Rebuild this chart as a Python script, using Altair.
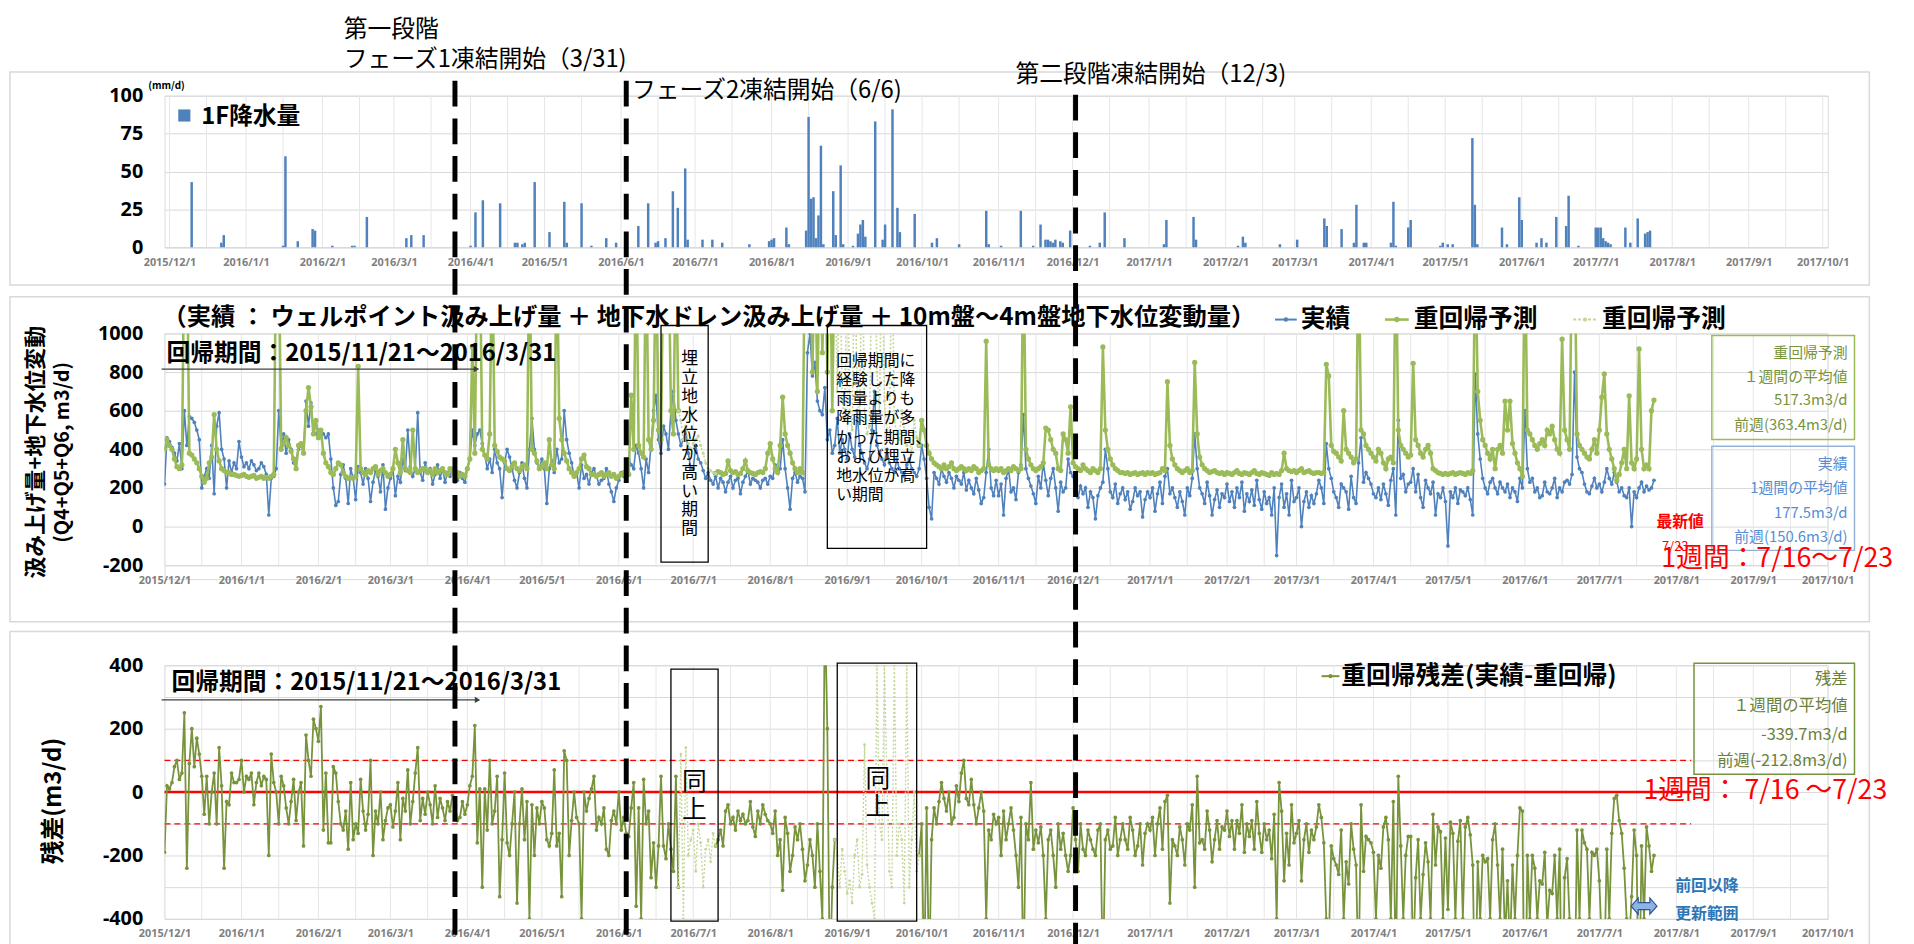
import altair as alt
import pandas as pd

# ------------------------------------------------------------------ data
START = "2015-12-01"

# 実績 (m3/d), daily from 2015-12-01 to 2017-07-23
ACTUAL = [
    # 2015-12
    220, 460, 440, 410, 380, 340, 430, 300, 600, 420,
    570, 560, 540, 500, 450, 200, 260, 300, 250, 420,
    170, 520, 590, 400, 350, 200, 340, 280, 330, 300,
    440,
    # 2016-01
    360, 310, 330, 300, 340, 320, 290, 300, 330, 310,
    270, 60, 250, 260, 300, 600, 410, 480, 380, 450,
    400, 330, 350, 400, 420, 380, 650, 520, 640, 500,
    480,
    # 2016-02
    500, 470, 480, 460, 480, 350, 200, 110, 130, 270,
    320, 250, 120, 300, 250, 140, 310, 280, 220, 300,
    250, 130, 230, 290, 260, 180, 320, 90, 200,
    # 2016-03
    250, 300, 160, 260, 230, 350, 290, 500, 310, 260,
    300, 590, 280, 240, 330, 280, 300, 220, 270, 320,
    250, 300, 230, 280, 260, 300, 230, 240, 280, 250,
    230,
    # 2016-04
    300, 350, 500, 420, 480, 500, 430, 370, 300, 350,
    280, 400, 330, 300, 150, 330, 400, 360, 300, 240,
    200, 280, 330, 250, 200, 400, 560, 400, 330, 300,
    # 2016-05
    350, 300, 120, 300, 340, 280, 400, 330, 350, 600,
    450, 380, 330, 260, 280, 200, 320, 250, 270, 220,
    280, 300, 260, 220, 240, 250, 300, 220, 180, 130,
    200,
    # 2016-06
    240, 280, 260, 300, 350, 320, 300, 420, 380, 300,
    200, 350, 280, 420, 600, 680, 450, 380, 520, 480,
    400, 600, 700, 550, 480, 420, 450, 500, 380, 300,
    # 2016-07
    300, 420, 350, 330, 290, 250, 280, 240, 220, 260,
    200, 250, 230, 180, 230, 260, 200, 240, 250, 170,
    230, 260, 290, 220, 250, 240, 230, 200, 240, 250,
    220,
    # 2016-08
    260, 250, 320, 280, 300, 450, 300, 200, 90, 250,
    280, 230, 260, 250, 180, 900, 1000, 780, 850, 650,
    600, 580, 720, 450, 500, 380, 420, 560, 380, 450,
    400,
    # 2016-09
    350, 480, 400, 360, 600, 420, 380, 330, 300, 350,
    500, 700, 420, 380, 350, 320, 400, 330, 300, 280,
    350, 300, 280, 260, 320, 350, 300, 280, 260, 300,
    # 2016-10
    420, 350, 250, 100, 40, 280, 250, 220, 300, 260,
    230, 280, 250, 200, 260, 240, 220, 280, 190, 240,
    200, 170, 250, 190, 120, 150, 280, 400, 200, 160,
    240,
    # 2016-11
    160, 220, 60, 250, 300, 180, 200, 140, 280, 320,
    580, 300, 250, 210, 170, 120, 260, 200, 330, 240,
    160, 250, 300, 200, 80, 230, 180, 200, 350, 280,
    # 2016-12
    260, 200, 150, 210, 170, 200, 100, 180, 150, 40,
    160, 200, 230, 400, 300, 180, 150, 220, 120, 170,
    200, 140, 180, 90, 130, 200, 160, 180, 50, 140,
    180,
    # 2017-01
    150, 200, 80, 170, 230, 120, 260, 300, 170, 200,
    150, 100, 180, 130, 60, 200, 160, 250, 480, 300,
    200, 170, 120, 230, 160, 60, 140, 190, 100, 170,
    150,
    # 2017-02
    220, 130, 180, 100, 200, 150, 230, 80, 170, 130,
    190, 110, 240, 140, 90, 180, 120, 150, 60, 200,
    -150, 150, 220, 100, 170, 60, 240, 130,
    # 2017-03
    150, 200, 0, 130, 180, 100, 160, 120, 170, 240,
    200, 120, 430, 300, 250, 180, 150, 100, 220, 200,
    180, 90, 260, 150, 120, 330, 460, 230, 280, 250,
    220,
    # 2017-04
    170, 150, 200, 140, 220, 170, 110, 240, 300, 60,
    550, 250, 270, 180, 220, 230, 300, 180, 270, 150,
    100, 240, 200, 170, 230, 60, 170, 150, 200, 130,
    # 2017-05
    -100, 180, 150, 200, 120, 190, 180, 160, 200, 140,
    60, 790, 480, 350, 250, 200, 170, 230, 250, 200,
    170, 230, 200, 180, 220, 150, 200, 180, 130, 250,
    200,
    # 2017-06
    600, 300, 230, 250, 180, 200, 150, 160, 230, 180,
    170, 200, 250, 150, 200, 180, 230, 240, 220, 270,
    800, 360, 300, 280, 220, 180, 170, 210, 250, 200,
    # 2017-07
    220, 180, 230, 300, 250, 220, 280, 230, 180, 200,
    160, 150, 200, 0, 180, 150, 200, 230, 180, 210,
    190, 200, 240,
]

# 重回帰予測 (m3/d), daily; values above 1000 run off the top of the axis
PREDICTED = [
    # 2015-12
    400, 450, 420, 400, 350, 310, 300, 320, 1500, 1500,
    380, 370, 350, 330, 300, 260, 230, 250, 330, 360,
    580, 400, 340, 300, 290, 280, 280, 270, 270, 265,
    260,
    # 2016-01
    265, 270, 260, 255, 260, 265, 250, 255, 260, 250,
    255, 250, 260, 270, 1500, 1500, 400, 430, 460, 420,
    390, 350, 300, 420, 430, 380, 600, 720, 620, 480,
    550,
    # 2016-02
    460, 500, 380, 330, 310, 280, 270, 300, 330, 320,
    280, 260, 250, 255, 250, 260, 830, 300, 280, 270,
    290, 280, 300, 310, 270, 290, 300, 280, 260,
    # 2016-03
    270, 300, 400, 330, 280, 450, 300, 290, 280, 500,
    300, 280, 290, 300, 300, 280, 290, 270, 300, 280,
    290, 300, 280, 270, 300, 290, 270, 280, 260, 270,
    260,
    # 2016-04
    300, 350, 930, 380, 1500, 1500, 400, 370, 350, 480,
    1500, 420, 390, 360, 350, 340, 300, 290, 310, 330,
    300, 290, 310, 320, 300, 1500, 400, 380, 340, 300,
    # 2016-05
    310, 330, 300, 450, 320, 300, 1500, 560, 450, 380,
    340, 300, 280, 260, 280, 300, 350, 370, 310, 300,
    270, 270, 260, 270, 280, 260, 270, 280, 260, 270,
    250,
    # 2016-06
    260, 270, 280, 260, 270, 680, 400, 1500, 420, 380,
    360, 1500, 450, 400, 550, 1500, 500, 450, 1500, 1500,
    1500, 600, 480, 1500, 600, 550, 450, 520, 430, 400,
    # 2016-07
    430, 450, 470, 420, 380, 330, 300, 290, 280, 275,
    285, 280, 270, 275, 340, 290, 280, 285, 270, 275,
    300, 340, 290, 280, 275, 270, 280, 285, 280, 300,
    380,
    # 2016-08
    430, 350, 300, 280, 420, 670, 480, 420, 380, 330,
    300, 280, 300, 280, 1500, 1500, 1500, 800, 1500, 700,
    1500, 900, 1500, 800, 1500, 600, 1500, 700, 1500, 650,
    550,
    # 2016-09
    1500, 600, 500, 1500, 700, 550, 1500, 600, 480, 520,
    1500, 1500, 800, 600, 1500, 650, 500, 450, 1500, 550,
    480, 450, 600, 500, 420, 450, 380, 550, 460, 420,
    # 2016-10
    550, 500, 420, 380, 350, 330, 320, 310, 300, 320,
    300, 310, 330, 300, 290, 300, 310, 300, 290, 300,
    290, 310, 300, 280, 290, 300, 960, 320, 300, 290,
    300,
    # 2016-11
    290, 300, 280, 290, 300, 290, 310, 300, 290, 300,
    1500, 400, 350, 320, 300, 290, 300, 310, 330, 510,
    500, 450, 400, 380, 300, 290, 480, 450, 380, 620,
    # 2016-12
    330, 310, 300, 290, 320, 300, 290, 280, 300, 290,
    280, 300, 930, 500, 400, 350, 320, 300, 290, 280,
    280, 275, 280, 270, 275, 280, 270, 275, 280, 270,
    280,
    # 2017-01
    275, 280, 270, 275, 280, 300, 290, 750, 420, 350,
    320, 300, 290, 280, 290, 300, 280, 290, 850, 480,
    360, 320, 300, 290, 280, 285, 290, 280, 275, 280,
    270,
    # 2017-02
    280, 275, 270, 280, 290, 275, 270, 280, 275, 270,
    280, 290, 275, 270, 280, 275, 270, 265, 280, 270,
    275, 270, 290, 380, 300, 290, 285, 290,
    # 2017-03
    280, 290, 300, 280, 285, 290, 280, 275, 280, 280,
    275, 280, 840, 780, 420, 390, 380, 360, 340, 600,
    400, 380, 360, 330, 350, 1500, 500, 480, 420, 400,
    380,
    # 2017-04
    360, 340, 400, 380, 330, 300, 350, 360, 330, 1500,
    500, 420, 400, 380, 360, 370, 845, 450, 420, 380,
    360, 400, 420, 380, 300, 290, 280, 275, 270, 275,
    # 2017-05
    270, 275, 280, 270, 275, 280, 275, 270, 280, 275,
    290, 1500, 700, 550, 450, 420, 380, 350, 400, 300,
    400, 420, 380, 650, 500, 650, 430, 380, 330, 300,
    260,
    # 2017-06
    1500, 500, 480, 450, 420, 400, 430, 450, 420, 500,
    480, 520, 450, 400, 380, 970, 500, 450, 400, 1500,
    1500, 480, 420, 400, 380, 360, 350, 400, 450, 380,
    # 2017-07
    500, 670, 790, 480, 400, 350, 300, 240, 270, 330,
    400, 300, 677, 330, 300, 350, 920, 400, 300, 320,
    300, 600, 655,
]

# 重回帰残差 (実績-重回帰) (m3/d), daily; values beyond +-400 run off the axis
RESIDUAL = [
    # 2015-12
    -190, 20, 10, 30, 80, 100, 40, 60, 250, -240,
    90, 200, 80, 170, 120, 50, -70, 50, -100, 0,
    60, -100, 140, 20, -240, -30, -40, 60, 30, 30,
    40,
    # 2016-01
    100, 0, 50, 40, 60, -40, 30, 60, 20, 50,
    40, -200, 120, 30, 0, -100, 50, 20, -50, -100,
    -30, 40, -90, 0, 30, -170, 180, 100, 50, 230,
    200,
    # 2016-02
    160, 270, -120, 60, -160, -160, 80, 60, -30, -100,
    -120, -60, -180, 30, -150, -100, -130, 40, -60, -120,
    -70, 100, -200, -60, -100, 0, -150, -90, -50,
    # 2016-03
    -40, -110, -60, 30, -150, -20, -60, 70, -100, -30,
    60, 140, -90, -20, -70, 0, -40, -100, 20, -80,
    -20, -50, -90, -30, -60, -10, -40, -90, -80, -30,
    -70,
    # 2016-04
    -40, 20, 50, 210, -160, 10, -300, 10, -120, 100,
    -100, -60, 50, -330, -150, 60, -160, -200, -100, 0,
    -350, -100, 10, -150, -30, -400, -40, -200, -50, -100,
    # 2016-05
    -30, -50, -150, -170, -130, 70, -170, -130, -330, 130,
    100, -200, -90, 0, -80, -100, -400, 0, -60, -20,
    10, 50, -120, -80, -100, -50, -180, -200, -90, -60,
    -100,
    # 2016-06
    0, -120, -80, -130, -140, -50, 30, -360, -50, -400,
    40, -100, -60, -270, -160, -300, -170, 50, -170, -210,
    -100, -180, -250, 50, -300, 120, -400, 140, -200, -150,
    # 2016-07
    -120, -250, -100, -160, -300, -180, -150, -220, -130, -170,
    -150, -120, -170, -60, -40, -100, -80, -120, -60, -90,
    -70, -100, -90, -30, -110, -140, -60, -100, -40, -70,
    -90,
    # 2016-08
    -100, -130, -60, -200, -150, -310, -80, -130, -250, -200,
    -110, -150, -100, -180, -280, -230, -150, -200, -300, -100,
    -250, -400, 600, 200, -600, -300, -150, -200, -300, -180,
    -250,
    # 2016-09
    -320, -280, -350, -200, -150, -300, -260, 150, -230, -300,
    -350, -400, 400, -100, -150, 400, 50, -250, -300, 400,
    -200, -100, -150, -350, 400, -300, -150, 0, -250, -200,
    # 2016-10
    -100, -600, -50, -600, -150, -50, -100, -30, 30, -20,
    -60, 0, -100, -80, 20, -30, 60, 100, -20, -40,
    40, -40, -100, -50, 0, -60, -400, -120, -150, -70,
    -100,
    # 2016-11
    -80, -200, -60, -150, -100, -50, -120, -200, -300, -80,
    -600, -100, -150, 30, -180, -120, -160, -110, -200, -400,
    -150, -120, -200, -300, -100, -180, -130, -200, -250, -200,
    # 2016-12
    -50, -150, -250, -100, -180, -200, -120, -150, -180, -200,
    -120, -100, -600, -150, -120, -180, -170, -80, -200, -150,
    -100, -150, -180, -80, -120, -200, -170, -100, -230, -130,
    -100,
    # 2017-01
    -120, -80, -200, -100, -50, -180, -30, -10, -350, -150,
    -170, -200, -110, -150, -230, -100, -120, -40, -300, 50,
    -160, -150, -180, -60, -120, -220, -150, -90, -180, -110,
    -120,
    # 2017-02
    -60, -140, -90, -180, -90, -130, -40, -190, -100, -140,
    -90, -180, -30, -130, -190, -100, -150, -120, -210, -70,
    -400, 30, -60, -280, -130, -230, -40, -160,
    # 2017-03
    -130, -90, -280, -150, -100, -190, -120, -150, -110, -40,
    -80, -160, -400, -480, -170, -210, -230, -260, -120, -400,
    -220, -290, -100, -180, -230, -600, -40, -250, -140, -150,
    -160,
    # 2017-04
    -190, -400, -200, -240, -110, -80, -150, -400, -30, -600,
    50, -170, -400, -200, -140, -140, -545, -270, -150, -400,
    -260, -160, -220, -400, -70, -230, -110, -125, -400, -145,
    # 2017-05
    -370, -95, -130, -400, -155, -90, -400, -110, -80, -135,
    -230, -710, -220, -400, -200, -220, -210, -400, -150, -100,
    -230, -400, -180, -470, -280, -500, -230, -400, -200, -50,
    -60,
    # 2017-06
    -900, -200, -400, -200, -240, -400, -280, -290, -190, -420,
    -310, -320, -200, -400, -180, -790, -270, -210, -400, -1300,
    -700, -120, -400, -120, -160, -180, -400, -190, -200, -180,
    # 2017-07
    -280, -490, -560, -180, -400, -130, -20, -10, -90, -130,
    -240, -400, -477, -330, -120, -200, -720, -170, -400, -110,
    -170, -250, -200,
]

# 1F降水量 (mm/d), rainy days only
RAIN_DATES = [
    "2015-12-10", "2015-12-22", "2015-12-23", "2016-01-16", "2016-01-17", "2016-01-22",
    "2016-01-28", "2016-01-29", "2016-02-05", "2016-02-13", "2016-02-14", "2016-02-19",
    "2016-03-06", "2016-03-08", "2016-03-13", "2016-04-01", "2016-04-03", "2016-04-06",
    "2016-04-13", "2016-04-19", "2016-04-20", "2016-04-22", "2016-04-23", "2016-04-27",
    "2016-05-03", "2016-05-09", "2016-05-10", "2016-05-16", "2016-05-20", "2016-05-26",
    "2016-05-30", "2016-06-08", "2016-06-12", "2016-06-15", "2016-06-16", "2016-06-19",
    "2016-06-22", "2016-06-24", "2016-06-27", "2016-06-28", "2016-07-04", "2016-07-08",
    "2016-07-12", "2016-07-23", "2016-07-31", "2016-08-01", "2016-08-02", "2016-08-07",
    "2016-08-08", "2016-08-15", "2016-08-16", "2016-08-17", "2016-08-18", "2016-08-19",
    "2016-08-20", "2016-08-21", "2016-08-22", "2016-08-26", "2016-08-27", "2016-08-29",
    "2016-08-30", "2016-09-03", "2016-09-05", "2016-09-06", "2016-09-07", "2016-09-08",
    "2016-09-12", "2016-09-15", "2016-09-16", "2016-09-19", "2016-09-21", "2016-09-22",
    "2016-09-28", "2016-10-05", "2016-10-07", "2016-10-16", "2016-10-27", "2016-10-28",
    "2016-11-02", "2016-11-10", "2016-11-15", "2016-11-18", "2016-11-20", "2016-11-21",
    "2016-11-22", "2016-11-23", "2016-11-24", "2016-11-26", "2016-11-27", "2016-11-30",
    "2016-12-08", "2016-12-12", "2016-12-14", "2016-12-22", "2017-01-07", "2017-01-08",
    "2017-01-19", "2017-01-20", "2017-02-06", "2017-02-08", "2017-02-09", "2017-02-23",
    "2017-03-02", "2017-03-13", "2017-03-14", "2017-03-20", "2017-03-25", "2017-03-26",
    "2017-03-29", "2017-03-30", "2017-04-09", "2017-04-10", "2017-04-11", "2017-04-16",
    "2017-04-17", "2017-04-29", "2017-04-30", "2017-05-02", "2017-05-04", "2017-05-12",
    "2017-05-13", "2017-05-14", "2017-05-24", "2017-05-26", "2017-05-31", "2017-06-01",
    "2017-06-07", "2017-06-09", "2017-06-11", "2017-06-15", "2017-06-19", "2017-06-20",
    "2017-06-24", "2017-07-01", "2017-07-02", "2017-07-03", "2017-07-04", "2017-07-05",
    "2017-07-06", "2017-07-07", "2017-07-13", "2017-07-15", "2017-07-18", "2017-07-21",
    "2017-07-22", "2017-07-23",
]
RAIN_MM = [
    43, 3, 8, 1, 60, 4,
    12, 11, 1, 1, 1, 20,
    6, 8, 8, 1, 23, 31,
    29, 3, 3, 2, 3, 43,
    10, 30, 3, 29, 1, 6,
    3, 14, 29, 3, 4, 6,
    37, 26, 52, 5, 5, 5,
    3, 2, 4, 5, 6, 13,
    2, 11, 86, 32, 33, 6,
    21, 67, 2, 37, 8, 54,
    2, 1, 9, 15, 18, 7,
    83, 5, 15, 91, 26, 10,
    22, 3, 6, 2, 24, 2,
    1, 24, 1, 15, 5, 5,
    4, 3, 5, 4, 3, 11,
    1, 3, 23, 6, 2, 18,
    20, 5, 1, 7, 3, 2,
    5, 19, 14, 12, 3, 28,
    3, 3, 3, 30, 1, 13,
    18, 1, 3, 2, 2, 72,
    28, 2, 13, 2, 33, 18,
    3, 6, 3, 20, 14, 34,
    1, 13, 13, 13, 6, 4,
    3, 2, 13, 3, 19, 9,
    10, 11,
]

EXCLUDED_PERIODS = [("2016-06-25", "2016-07-10"), ("2016-08-27", "2016-09-30")]
PHASE_DATES = ["2016-03-27", "2016-06-04", "2016-12-02"]
MID_BOX_START = ["2016-06-18", "2016-08-24"]
MID_BOX_END = ["2016-07-07", "2016-10-03"]
MID_BOX_LOW = [-184, -113]
MID_BOX_HIGH = [1041, 1041]
BOT_BOX_START = ["2016-06-22", "2016-08-28"]
BOT_BOX_END = ["2016-07-11", "2016-09-29"]
BOT_BOX_LOW = [-407, -407]
BOT_BOX_HIGH = [388, 407]
BAND_VALUES = [0, 100, -100]
BAND_END = "2017-08-07"
X_START, X_END = "2015-12-01", "2017-10-01"

# ------------------------------------------------------------------ frames
JP = "Noto Sans CJK JP"
BLUE = "#4F81BD"
GREEN = "#9BBB59"
LIGHTG = "#C4D79B"
OLIVE = "#77933C"

W = 1679
H_TOP, H_MID, H_BOT = 153, 234, 256
MID_EXTRA = 14          # extra room under the middle plot so the panels keep their gaps
SPACING = 87


def ms(s):
    return int(pd.Timestamp(s).value // 10**6)


ONE = pd.DataFrame({"k": [0]})
TICKS = [ms(t) for t in pd.date_range(X_START, X_END, freq="MS")]
grid_dates = []
for t in pd.date_range(X_START, X_END, freq="MS"):
    grid_dates.append(t.strftime("%Y-%m-%d"))
    if t < pd.Timestamp(X_END):
        grid_dates.append((t + pd.Timedelta(days=15)).strftime("%Y-%m-%d"))
GRID = pd.DataFrame({"date": grid_dates})

XS = alt.Scale(type="utc", domain=[ms(X_START), ms(X_END)])


def xaxis(offset=0):
    return alt.Axis(values=TICKS, format="%Y/%-m/%-d", labelFont="Noto Sans", labelFontSize=11,
                    labelFontWeight="bold", labelColor="#7F7F7F", labelPadding=9, ticks=False,
                    grid=False, domain=True, domainColor="#D9D9D9", title=None, labelAngle=0,
                    labelOverlap=False, labelFlush=False, offset=offset)


def yaxis(values, expr):
    return alt.Axis(values=values, title=None, grid=True, gridColor="#D9D9D9", gridWidth=1,
                    ticks=False, domain=False, labelFont="Noto Sans", labelFontWeight="bold",
                    labelFontSize=20, labelColor="black", labelPadding=22, labelExpr=expr)


mid_low = -200 - MID_EXTRA * 1200 / H_MID
YT = dict(scale=alt.Scale(domain=[0, 100], nice=False),
          axis=yaxis([0, 25, 50, 75, 100], "'' + datum.value"))
YM = dict(scale=alt.Scale(domain=[mid_low, 1000], nice=False, zero=False),
          axis=yaxis(list(range(-200, 1001, 200)), "'' + datum.value"))
YB = dict(scale=alt.Scale(domain=[-400, 400], nice=False, zero=False),
          axis=yaxis(list(range(-400, 401, 100)),
                     "datum.value % 200 === 0 ? '' + datum.value : ''"))
XO = {"top": 0, "mid": -MID_EXTRA, "bot": 0}


def xenc(f, panel):
    return alt.X(f, type="temporal", scale=XS, axis=xaxis(XO[panel]))


def yenc(f, d):
    return alt.Y(f, type="quantitative", **d)


def series_df(values):
    dates = pd.date_range(START, periods=len(values), freq="D")
    (e1s, e1e), (e2s, e2e) = [(pd.Timestamp(a), pd.Timestamp(b)) for a, b in EXCLUDED_PERIODS]
    rows = []
    for dt, v in zip(dates, values):
        segs = []
        if dt <= e1s:
            segs.append(("m0", "main"))
        if e1s <= dt <= e1e:
            segs.append(("x1", "excl"))
        if e1e <= dt <= e2s:
            segs.append(("m1", "main"))
        if e2s <= dt <= e2e:
            segs.append(("x2", "excl"))
        if dt >= e2e:
            segs.append(("m2", "main"))
        for s, k in segs:
            rows.append({"date": dt.strftime("%Y-%m-%d"), "v": v, "seg": s, "kind": k})
    return pd.DataFrame(rows)


ACT_DF = pd.DataFrame({"date": pd.date_range(START, periods=len(ACTUAL), freq="D").strftime("%Y-%m-%d"),
                       "v": ACTUAL})
PRED_DF = series_df(PREDICTED)
RES_DF = series_df(RESIDUAL)
RAIN_DF = pd.DataFrame({"date": RAIN_DATES, "mm": RAIN_MM})


# ------------------------------------------------------------------ helpers
def txt(text, x, y, size, color="black", weight="normal", align="left", baseline="middle",
        angle=None, line_height=None, font=JP):
    kw = dict(fontSize=size, color=color, fontWeight=weight, align=align, baseline=baseline, font=font)
    if angle is not None:
        kw["angle"] = angle
    if line_height is not None:
        kw["lineHeight"] = line_height
    return alt.Chart(ONE).mark_text(**kw).encode(x=alt.value(x), y=alt.value(y), text=alt.value(text))


def frame(y1, y2, color="#D9D9D9", x1=-156, x2=1721, width=1.5):
    return alt.Chart(ONE).mark_rect(fillOpacity=0, stroke=color, strokeWidth=width).encode(
        x=alt.value(x1), x2=alt.value(x2), y=alt.value(y1), y2=alt.value(y2))


def hline(x1, x2, y, color, width, dash=None):
    kw = dict(color=color, strokeWidth=width)
    if dash:
        kw["strokeDash"] = dash
    return alt.Chart(ONE).mark_rule(**kw).encode(x=alt.value(x1), x2=alt.value(x2), y=alt.value(y))


def dot(x, y, color, size, shape="circle"):
    return alt.Chart(ONE).mark_point(filled=True, color=color, size=size, shape=shape, opacity=1).encode(
        x=alt.value(x), y=alt.value(y))


def vgrid(panel, height):
    return alt.Chart(GRID).mark_rule(color="#E6E6E6", strokeWidth=1).encode(
        x=xenc("date:T", panel), y=alt.value(0), y2=alt.value(height))


def lines(df, kind, yd, panel, color, width, psize, dash=None):
    kw = dict(color=color, strokeWidth=width, clip=True,
              point=alt.OverlayMarkDef(filled=True, size=psize, color=color, clip=True))
    if dash:
        kw["strokeDash"] = dash
    return alt.Chart(df).transform_filter(alt.datum.kind == kind).mark_line(**kw).encode(
        x=xenc("date:T", panel), y=yenc("v:Q", yd), detail="seg:N")


# ------------------------------------------------------------------ top panel
anchor = alt.Chart(ONE).mark_rule(strokeOpacity=0).encode(
    x=alt.value(0), x2=alt.value(10), y=alt.value(-83))
rain = alt.Chart(RAIN_DF).mark_bar(size=2.5, color=BLUE).encode(
    x=xenc("date:T", "top"), y=yenc("mm:Q", YT))
top = alt.layer(
    frame(-24, 191), anchor, vgrid("top", H_TOP), rain,
    dot(20, 20, BLUE, 150, "square"),
    txt("1F降水量", 37, 22, 24, weight="bold"),
    txt("(mm/d)", 2, -10, 10, weight="bold", align="center"),
    txt("第一段階", 181, -66, 24),
    txt("フェーズ1凍結開始（3/31)", 181, -36, 24),
    txt("フェーズ2凍結開始（6/6)", 472, -5, 24),
    txt("第二段階凍結開始（12/3)", 859, -21, 24),
).properties(width=W, height=H_TOP)

# ------------------------------------------------------------------ middle panel
MID_BOX_DF = pd.DataFrame({"s": MID_BOX_START, "e": MID_BOX_END, "lo": MID_BOX_LOW, "hi": MID_BOX_HIGH})
mid_boxes = alt.Chart(MID_BOX_DF).mark_rect(fillOpacity=0, stroke="black", strokeWidth=1.3, clip=False).encode(
    x=xenc("s:T", "mid"), x2="e:T", y=yenc("lo:Q", YM), y2="hi:Q")

actual = alt.Chart(ACT_DF).mark_line(
    color=BLUE, strokeWidth=1.6, clip=True,
    point=alt.OverlayMarkDef(filled=True, size=14, color=BLUE, clip=True)).encode(
    x=xenc("date:T", "mid"), y=yenc("v:Q", YM))

mid = alt.layer(
    frame(-37, 291), vgrid("mid", H_MID), actual,
    lines(PRED_DF, "main", YM, "mid", GREEN, 2.6, 28),
    lines(PRED_DF, "excl", YM, "mid", LIGHTG, 1.6, 10, dash=[2, 2]),
    mid_boxes,
    txt(list("埋立地水位が高い期間"), 530, 18, 17, align="center", baseline="top", line_height=19.1),
    txt(["回帰期間に", "経験した降", "雨量よりも", "降雨量が多", "かった期間、", "および埋立", "地水位が高", "い期間"],
        678, 20, 16, baseline="top", line_height=19.3),
    txt("（実績 ： ウェルポイント汲み上げ量 ＋ 地下水ドレン汲み上げ量 ＋ 10m盤～4m盤地下水位変動量）",
        -2, -16, 24.5, weight="bold"),
    hline(1121, 1143, -14, BLUE, 2), dot(1132, -14, BLUE, 20),
    txt("実績", 1147, -14, 25, weight="bold"),
    hline(1232, 1256, -14, GREEN, 2.6), dot(1244, -14, GREEN, 30),
    txt("重回帰予測", 1261, -14, 25, weight="bold"),
    hline(1422, 1447, -14, LIGHTG, 2, dash=[3, 2]), dot(1434, -14, LIGHTG, 18),
    txt("重回帰予測", 1451, -14, 25, weight="bold"),
    txt("回帰期間：2015/11/21～2016/3/31", 2, 21, 24, weight="bold"),
    hline(-3, 313, 36, "#404040", 1.3), dot(315, 36, "#404040", 40, "triangle-right"),
    txt(["汲み上げ量+地下水位変動"], -130, 120, 22, weight="bold", align="center", angle=270),
    txt(["(Q4+Q5+Q6, m3/d)"], -102, 120, 20, weight="bold", align="center", angle=270),
    frame(2, 107, color=GREEN, x1=1562, x2=1706),
    txt("重回帰予測", 1699, 20, 15, color=OLIVE, align="right"),
    txt("１週間の平均値", 1699, 44, 15, color=OLIVE, align="right"),
    txt("517.3m3/d", 1699, 67, 15, color=OLIVE, align="right"),
    txt("前週(363.4m3/d)", 1699, 92, 15, color=OLIVE, align="right"),
    frame(114, 219, color="#95B3D7", x1=1562, x2=1706),
    txt("実績", 1699, 132, 15, color="#558ED5", align="right"),
    txt("1週間の平均値", 1699, 156, 15, color="#558ED5", align="right"),
    txt("177.5m3/d", 1699, 181, 15, color="#558ED5", align="right"),
    txt("前週(150.6m3/d)", 1699, 206, 15, color="#558ED5", align="right"),
    txt("最新値", 1530, 190, 16, color="red", weight="bold", align="center"),
    txt("7/23", 1525, 216, 13, color="red", align="center"),
    txt("1週間：7/16～7/23", 1511, 228, 27, color="red"),
).properties(width=W, height=H_MID + MID_EXTRA)

# ------------------------------------------------------------------ bottom panel
BAND_DF = pd.DataFrame({"s": [X_START] * len(BAND_VALUES), "e": [BAND_END] * len(BAND_VALUES),
                        "v": BAND_VALUES, "solid": [v == 0 for v in BAND_VALUES]})
band_solid = alt.Chart(BAND_DF).transform_filter("datum.solid").mark_rule(color="#FF0000", strokeWidth=2.5).encode(
    x=xenc("s:T", "bot"), x2="e:T", y=yenc("v:Q", YB))
band_dash = alt.Chart(BAND_DF).transform_filter("!datum.solid").mark_rule(
    color="#FF0000", strokeWidth=1.3, strokeDash=[6, 4]).encode(
    x=xenc("s:T", "bot"), x2="e:T", y=yenc("v:Q", YB))

BOT_BOX_DF = pd.DataFrame({"s": BOT_BOX_START, "e": BOT_BOX_END, "lo": BOT_BOX_LOW, "hi": BOT_BOX_HIGH})
bot_boxes = alt.Chart(BOT_BOX_DF).mark_rect(fillOpacity=0, stroke="black", strokeWidth=1.3, clip=False).encode(
    x=xenc("s:T", "bot"), x2="e:T", y=yenc("lo:Q", YB), y2="hi:Q")

ARROW_PATH = ("M -1 0 L -0.45 -0.62 L -0.45 -0.27 L 0.45 -0.27 L 0.45 -0.62 L 1 0 "
              "L 0.45 0.62 L 0.45 0.27 L -0.45 0.27 L -0.45 0.62 Z")
upd = alt.Chart(pd.DataFrame({"date": ["2017-07-19"], "v": [-360]})).mark_point(
    shape=ARROW_PATH, size=680, filled=True, fill="#8DB4E2", stroke="#2F5597", strokeWidth=1.2,
    opacity=1, clip=False).encode(x=xenc("date:T", "bot"), y=yenc("v:Q", YB))

PHASE_DF = pd.DataFrame({"date": PHASE_DATES, "i": list(range(len(PHASE_DATES)))})
phase12 = alt.Chart(PHASE_DF).transform_filter("datum.i < 2").mark_rule(
    color="black", strokeWidth=5, strokeDash=[26, 12], clip=False).encode(
    x=xenc("date:T", "bot"), y=alt.value(-590), y2=alt.value(290))
phase3 = alt.Chart(PHASE_DF).transform_filter("datum.i == 2").mark_rule(
    color="black", strokeWidth=5, strokeDash=[26, 12], clip=False).encode(
    x=xenc("date:T", "bot"), y=alt.value(-576), y2=alt.value(290))

bot = alt.layer(
    frame(-34, 290), vgrid("bot", H_BOT), band_dash, band_solid,
    lines(RES_DF, "main", YB, "bot", OLIVE, 1.8, 14),
    lines(RES_DF, "excl", YB, "bot", LIGHTG, 1.4, 8, dash=[2, 2]),
    bot_boxes,
    txt(["同", "上"], 535, 106, 25, align="center", baseline="top", line_height=28),
    txt(["同", "上"], 720, 103, 25, align="center", baseline="top", line_height=28),
    txt("回帰期間：2015/11/21～2016/3/31", 7, 18, 24, weight="bold"),
    hline(-3, 314, 35, "#404040", 1.3), dot(316, 35, "#404040", 40, "triangle-right"),
    hline(1168, 1186, 11, OLIVE, 2), dot(1177, 11, OLIVE, 18),
    txt("重回帰残差(実績-重回帰)", 1188, 11, 25, weight="bold"),
    frame(-2, 110, color=OLIVE, x1=1544, x2=1706),
    txt("残差", 1699, 14, 16.5, color="#6B7F3A", align="right"),
    txt("１週間の平均値", 1699, 41, 16.5, color="#6B7F3A", align="right"),
    txt("-339.7m3/d", 1699, 70, 16.5, color="#6B7F3A", align="right"),
    txt("前週(-212.8m3/d)", 1699, 97, 16.5, color="#6B7F3A", align="right"),
    txt("1週間： 7/16 ～7/23", 1493, 127, 27, color="red"),
    txt(["残差(m3/d)"], -112, 137, 24, weight="bold", align="center", angle=270),
    upd,
    txt("前回以降", 1557, 223, 16, color="#2E75B6", weight="bold", align="center"),
    txt("更新範囲", 1557, 251, 16, color="#2E75B6", weight="bold", align="center"),
    phase12, phase3,
).properties(width=W, height=H_BOT)

chart = alt.vconcat(top, mid, bot, spacing=SPACING, bounds="flush").properties(
    padding={"left": 0, "top": 0, "right": 12, "bottom": 0}
).configure_view(stroke=None).configure(font=JP)

chart.save("out.html", embed_options={"renderer": "svg", "actions": False})
